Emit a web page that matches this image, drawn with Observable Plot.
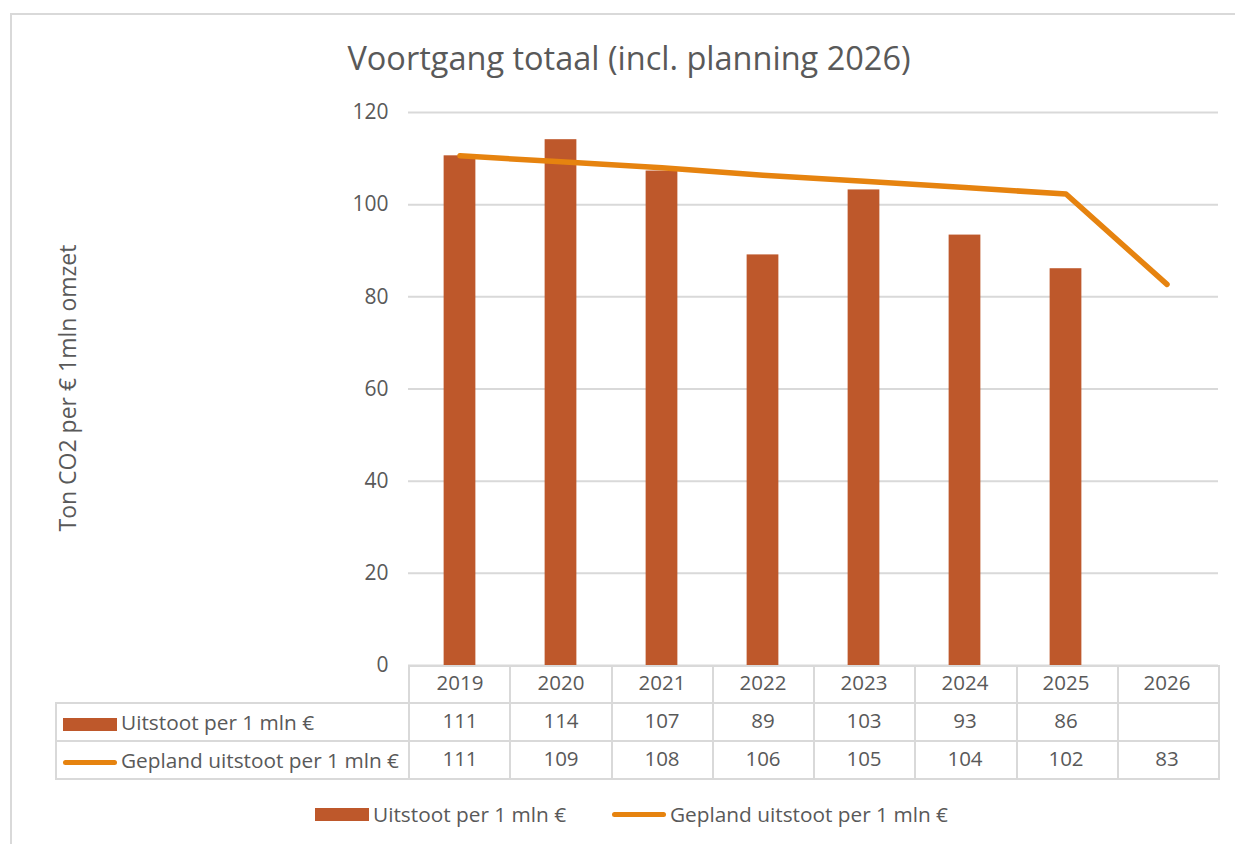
<!DOCTYPE html>
<html>
<head>
<meta charset="utf-8">
<script src="https://cdn.jsdelivr.net/npm/d3@7"></script>
<script src="https://cdn.jsdelivr.net/npm/@observablehq/plot@0.6"></script>
<style>
  html, body { margin: 0; padding: 0; background: #fff; }
  body { width: 1235px; height: 844px; overflow: hidden; font-family: "Open Sans", sans-serif; color: #595959; }
  #wrap { position: relative; width: 1235px; height: 844px; }
  #frame { position: absolute; left: 10px; top: 13px; width: 1240px; height: 850px; border: 2px solid #d9d9d9; box-sizing: border-box; }
  #title { position: absolute; left: 0; width: 1258px; top: 35px; text-align: center; font-size: 32.5px; color: #595959; }
  #ylabel { position: absolute; left: 67px; top: 388px; transform: translate(-50%, -50%) rotate(-90deg); white-space: nowrap; font-size: 23px; color: #595959; }
  #tbl { position: absolute; left: 55px; top: 665px; border-collapse: collapse; table-layout: fixed; }
  #tbl td { border: 2px solid #d9d9d9; padding: 0; font-size: 20.8px; color: #595959; white-space: nowrap; }
  #tbl td.blank { border-top: none; border-left: none; }
  .sw { display: inline-block; vertical-align: middle; margin-left: 6px; margin-right: 4px; }
  #chart { position: absolute; left: 0; top: 0; }
  #legend { position: absolute; top: 800px; left: 0; width: 1235px; font-size: 20.8px; color: #595959; }
  #legend .item { position: absolute; top: 0; display: flex; align-items: center; height: 28px; white-space: nowrap; }
</style>
</head>
<body>
<div id="wrap">
  <div id="frame"></div>
  <div id="title"></div>
  <div id="ylabel"></div>
  <table id="tbl"></table>
  <div id="chart"></div>
  <div id="legend"></div>
</div>
<script>
// ---- data ----
const titleText = "Voortgang totaal (incl. planning 2026)";
const yLabel = "Ton CO2 per € 1mln omzet";
const years = ["2019", "2020", "2021", "2022", "2023", "2024", "2025", "2026"];
const actualName = "Uitstoot per 1 mln €";
const plannedName = "Gepland uitstoot per 1 mln €";
const actual = [110.6, 114.1, 107.3, 89.1, 103.2, 93.4, 86.1, null];
const planned = [110.6, 109.3, 108.0, 106.4, 105.1, 103.7, 102.3, 82.7];
const yTicks = [0, 20, 40, 60, 80, 100, 120];

// ---- style ----
const barColor = "#BE582B";
const lineColor = "#E6830F";
const gridColor = "#d9d9d9";
const textColor = "#595959";
const font = "'Open Sans', sans-serif";

const W = 1235, mTop = 112, plotBottom = 665, mLeft = 408, mRight = 17;
const H = 780;
const step = (W - mLeft - mRight) / years.length;
const barW = 32;

const actualData = years.map((y, i) => ({year: y, value: actual[i]})).filter(d => d.value != null);
const plannedData = years.map((y, i) => ({year: y, value: planned[i]}));
const fmt = v => v == null ? "" : String(Math.round(v));

document.getElementById("title").textContent = titleText;
document.getElementById("ylabel").textContent = yLabel;

const chart = Plot.plot({
  width: W,
  height: H,
  marginTop: mTop,
  marginBottom: H - plotBottom,
  marginLeft: mLeft,
  marginRight: mRight,
  style: {background: "transparent", fontFamily: font, fontSize: "20.5px", color: textColor, overflow: "visible"},
  x: {type: "band", domain: years, padding: 0, label: null},
  y: {domain: [0, 120], label: null},
  marks: [
    Plot.ruleY(yTicks, {stroke: gridColor, strokeWidth: 2}),
    Plot.barY(actualData, {x: "year", y: "value", fill: barColor, insetLeft: (step - barW) / 2, insetRight: (step - barW) / 2}),
    Plot.line(plannedData, {x: "year", y: "value", stroke: lineColor, strokeWidth: 5.5, strokeLinecap: "round", strokeLinejoin: "round"}),
    Plot.axisY({ticks: yTicks, tickSize: 0, tickPadding: 20, fontSize: 21, label: null}),
    Plot.axisX({tickSize: 0, tickPadding: 10, fontSize: 20.5, label: null}),
    Plot.text(actualData, {x: "year", text: d => fmt(d.value), frameAnchor: "bottom", dy: 56, lineAnchor: "middle", fontSize: 20.5, fill: textColor}),
    Plot.text(plannedData, {x: "year", text: d => fmt(d.value), frameAnchor: "bottom", dy: 94, lineAnchor: "middle", fontSize: 20.5, fill: textColor})
  ]
});
document.getElementById("chart").appendChild(chart);

// table grid (lines + row labels)
const tbl = document.getElementById("tbl");
const colgroup = document.createElement("colgroup");
const c0 = document.createElement("col"); c0.style.width = (mLeft - 55) + "px"; colgroup.appendChild(c0);
years.forEach(() => { const c = document.createElement("col"); c.style.width = step + "px"; colgroup.appendChild(c); });
tbl.appendChild(colgroup);
const rowHeights = [37, 38, 38];
const rowLabels = [null, {name: actualName, kind: "bar"}, {name: plannedName, kind: "line"}];
function swatch(kind) {
  const s = document.createElement("span");
  s.className = "sw";
  if (kind === "bar") { s.style.width = "54px"; s.style.height = "13px"; s.style.background = barColor; }
  else { s.style.width = "54px"; s.style.height = "5px"; s.style.borderRadius = "3px"; s.style.background = lineColor; }
  return s;
}
rowHeights.forEach((h, r) => {
  const tr = document.createElement("tr");
  tr.style.height = h + "px";
  const first = document.createElement("td");
  if (r === 0) first.className = "blank";
  else {
    first.appendChild(swatch(rowLabels[r].kind));
    first.appendChild(document.createTextNode(rowLabels[r].name));
  }
  tr.appendChild(first);
  years.forEach(() => tr.appendChild(document.createElement("td")));
  tbl.appendChild(tr);
});

// legend
const legend = document.getElementById("legend");
const items = [{name: actualName, kind: "bar", left: 315}, {name: plannedName, kind: "line", left: 612}];
items.forEach(it => {
  const d = document.createElement("div");
  d.className = "item";
  d.style.left = it.left + "px";
  const s = document.createElement("span");
  s.style.display = "inline-block";
  s.style.width = "54px";
  if (it.kind === "bar") { s.style.height = "13px"; s.style.background = barColor; }
  else { s.style.height = "5px"; s.style.borderRadius = "3px"; s.style.background = lineColor; }
  s.style.marginRight = "4px";
  d.appendChild(s);
  d.appendChild(document.createTextNode(it.name));
  legend.appendChild(d);
});
</script>
</body>
</html>
